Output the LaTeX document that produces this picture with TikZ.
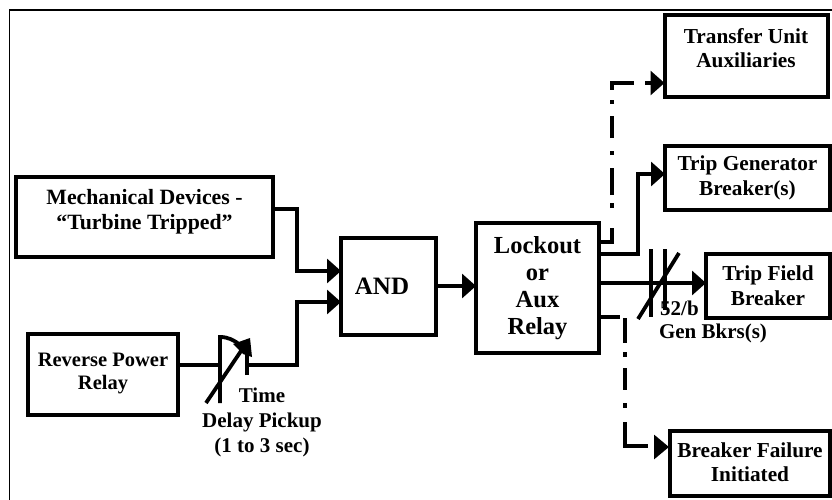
\documentclass[tikz,border=0pt]{standalone}
\usepackage{fontspec}
\setmainfont{Liberation Serif}
\usetikzlibrary{arrows.meta}
\tikzset{x=1pt,y=-1pt,
 bx/.style={draw,line width=4pt,inner sep=0pt,align=center,font=\fontsize{21.3}{25}\selectfont\bfseries},
 wire/.style={line width=3.2pt,line join=miter},
 arr/.style={wire,shorten >=-2pt,-{Triangle[length=14pt,width=24pt]}},
 bar/.style={line width=3.8pt},
 lab/.style={font=\fontsize{21}{25}\selectfont\bfseries,align=center,inner sep=0pt}}
\begin{document}
\begin{tikzpicture}
\useasboundingbox (0,0) rectangle (832,500);
\draw[line width=1.7pt] (832,10) -- (9.5,10) -- (9.5,500);
\node[bx,minimum width=257pt,minimum height=80pt,font=\fontsize{21.8}{28}\selectfont\bfseries] (mech) at (144.5,217) {\raisebox{15pt}{\shortstack{Mechanical Devices -\\[6pt]``Turbine Tripped''}}};
\node[bx,minimum width=150pt,minimum height=81pt,font=\fontsize{20.5}{25}\selectfont\bfseries] (rev) at (103,374.5) {\raisebox{7pt}{\shortstack{Reverse Power\\[6pt]Relay}}};
\node[bx,font=\fontsize{25}{25}\selectfont\bfseries,minimum width=95pt,minimum height=97pt] (and) at (388.5,286.5) {\hspace*{-13pt}AND};
\node[bx,font=\fontsize{24.5}{27}\selectfont\bfseries,minimum width=123pt,minimum height=130pt] (lock) at (537.5,288) {Lockout\\or\\Aux\\Relay};
\node[bx,minimum width=163pt,minimum height=82pt] (tu) at (746,56) {\raisebox{16pt}{\shortstack{Transfer Unit\\[7pt]Auxiliaries}}};
\node[bx,minimum width=165pt,minimum height=64pt] (tg) at (747.5,178) {Trip Generator\\Breaker(s)};
\node[bx,minimum width=124pt,minimum height=64pt] (tf) at (768,286) {Trip Field\\Breaker};
\node[bx,minimum width=160pt,minimum height=65pt] (bf) at (750,463.5) {\raisebox{2pt}{\shortstack{Breaker Failure\\[6pt]Initiated}}};
\draw[arr] (mech.east|-0,209) -- (297,209) -- (297,271) -- (and.west|-0,271);
\draw[wire] (rev.east|-0,365) -- (220,365);
\coordinate (tR) at (247,365);
\draw[arr] (tR) -- (297,365) -- (297,302) -- (and.west|-0,302);
\draw[arr] (and.east|-0,286) -- (lock.west|-0,286);
% timer symbol
\coordinate (tA) at (220,403);
\coordinate (tB) at (220,337);
\coordinate (tC) at (240,345);
\coordinate (tD) at (206,403);
\coordinate (tE) at (247,375);
\draw[bar,line join=miter] (tA) -- (tB) .. controls (228,337) and (234,340) .. (tC);
\draw[bar] (tD) -- (241,351);
\draw[bar] (tE) -- (247,352);
\fill (233,344) -- (250,338) -- (252,357) -- (243,354) -- cycle;
% outputs
\draw[arr] (lock.east|-0,254) -- (638,254) -- (638,174) -- (tg.west|-0,174);
\draw[wire,dash pattern=on 25pt off 20pt on 5pt off 8pt on 27pt off 13pt on 4pt off 13pt on 22pt off 12pt on 4pt off 10pt on 30pt off 100pt] (lock.east|-0,242) -- (612,242) -- (612,83) -- (634,83);
\coordinate (tuS) at (645,83);
\draw[arr] (tuS) -- (tu.west|-0,83);
\draw[arr] (lock.east|-0,283) -- (tf.west|-0,283);
\draw[bar] (651,249) -- (651,317);
\draw[bar] (665,249) -- (665,310);
\draw[bar] (638,319) -- (679,253);
\node[lab,anchor=base west] (lbl) at (660,315) {52/b};
\node[lab] (gb) at (713,333) {Gen Bkrs(s)};
\draw[wire] (lock.east|-0,317) -- (620,317);
\draw[wire,dash pattern=on 25pt off 9pt on 5pt off 11pt on 22pt off 13pt on 5pt off 14pt on 60pt off 100pt] (625,318) -- (625,446) -- (648,446);
\coordinate (bfS) at (654,447);
\draw[wire,shorten >=-1pt,-{Triangle[length=15pt,width=24pt]}] (bfS) -- (bf.west|-0,447);
\node[lab] (td) at (262,422) {Time\\Delay Pickup\\(1 to 3 sec)};
\end{tikzpicture}
\end{document}
